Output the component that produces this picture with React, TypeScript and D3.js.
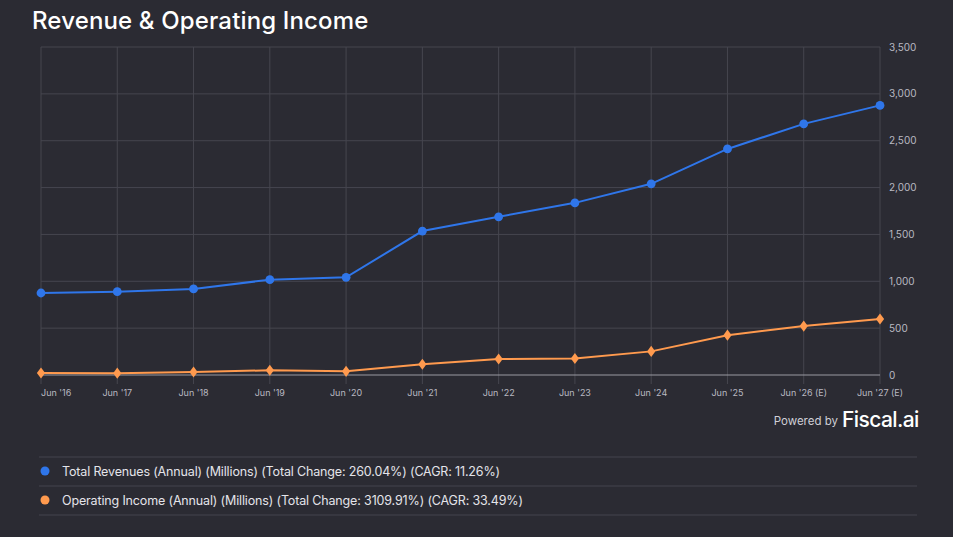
import { line, scaleLinear, scalePoint, symbol, symbolDiamond } from 'd3';

const categories = ["Jun '16", "Jun '17", "Jun '18", "Jun '19", "Jun '20", "Jun '21", "Jun '22", "Jun '23", "Jun '24", "Jun '25", "Jun '26 (E)", "Jun '27 (E)"];
const revenues = [875, 889, 918, 1017, 1042, 1536, 1688, 1837, 2040, 2412, 2680, 2877];
const operatingIncome = [22, 20, 32, 50, 39, 114, 170, 176, 252, 425, 522, 597];
const yTicks = [0, 500, 1000, 1500, 2000, 2500, 3000, 3500];
const legendItems = [
  { label: 'Total Revenues (Annual) (Millions) (Total Change: 260.04%) (CAGR: 11.26%)', color: '#2f76ea' },
  { label: 'Operating Income (Annual) (Millions) (Total Change: 3109.91%) (CAGR: 33.49%)', color: '#ff9a4e' },
];

const WIDTH = 953;
const HEIGHT = 537;
const MARGIN = { top: 47, right: 73, bottom: 162, left: 41 };
const BG = '#2b2b33';
const GRID = '#46464f';
const FONT = "Inter, 'Noto Sans', sans-serif";

export default function App() {
  const plotBottom = HEIGHT - MARGIN.bottom;
  const plotRight = WIDTH - MARGIN.right;

  const x = scalePoint<string>().domain(categories).range([MARGIN.left, plotRight]);
  const y = scaleLinear().domain([0, 3500]).range([plotBottom, MARGIN.top]);

  const makeLine = line<number>()
    .x((_, i) => x(categories[i]) ?? 0)
    .y((d) => y(d));

  const diamond = symbol().type(symbolDiamond).size(44)() ?? '';

  return (
    <div style={{ position: 'fixed', inset: 0, background: BG }}>
      <svg width={WIDTH} height={HEIGHT} style={{ display: 'block', fontFamily: FONT }}>
        <rect width={WIDTH} height={HEIGHT} fill={BG} />
        <text x={32} y={29} fill="#ffffff" fontSize={24} fontWeight={500} letterSpacing={0.15}>
          Revenue &amp; Operating Income
        </text>

        {yTicks.map((t) => (
          <g key={t}>
            {t > 0 ? (
              <line x1={MARGIN.left} x2={plotRight} y1={y(t)} y2={y(t)} stroke={GRID} strokeWidth={1} />
            ) : null}
            <text x={plotRight + 9} y={y(t) + 3.5} fill="#b9b9c2" fontSize={10}>
              {t.toLocaleString('en-US')}
            </text>
          </g>
        ))}

        {categories.map((c, i) => (
          <g key={c}>
            <line x1={x(c)} x2={x(c)} y1={MARGIN.top} y2={plotBottom + 9} stroke={GRID} strokeWidth={1} />
            <text
              x={x(c)}
              y={plotBottom + 21}
              fill="#b9b9c2"
              fontSize={9}
              textAnchor={i === 0 ? 'start' : 'middle'}
            >
              {c}
            </text>
          </g>
        ))}

        <line x1={MARGIN.left} x2={plotRight} y1={plotBottom} y2={plotBottom} stroke="#9a9aa2" strokeWidth={1} />

        <path d={makeLine(revenues) ?? ''} fill="none" stroke="#2f76ea" strokeWidth={2} />
        {revenues.map((v, i) => (
          <circle key={i} cx={x(categories[i])} cy={y(v)} r={4.4} fill="#2f76ea" />
        ))}

        <path d={makeLine(operatingIncome) ?? ''} fill="none" stroke="#ff9a4e" strokeWidth={2} />
        {operatingIncome.map((v, i) => (
          <path key={i} d={diamond} transform={`translate(${x(categories[i])},${y(v)}) scale(1.15,0.9)`} fill="#ff9a4e" />
        ))}

        <text x={838} y={425} fill="#cfcfd6" fontSize={11.5} textAnchor="end">
          Powered by
        </text>
        <text x={842} y={427} fill="#ffffff" fontSize={21} fontWeight={500} letterSpacing={-0.6}>
          Fiscal.ai
        </text>

        {[457, 486, 515].map((ly) => (
          <line key={ly} x1={39} x2={917} y1={ly} y2={ly} stroke="#45454e" strokeWidth={1} />
        ))}
        {legendItems.map((item, i) => (
          <g key={item.label} transform={`translate(0, ${471 + i * 29})`}>
            <circle cx={45} cy={0} r={4.5} fill={item.color} />
            <text x={62} y={4.5} fill="#e4e4ea" fontSize={12.5} letterSpacing={-0.15}>
              {item.label}
            </text>
          </g>
        ))}
      </svg>
    </div>
  );
}
